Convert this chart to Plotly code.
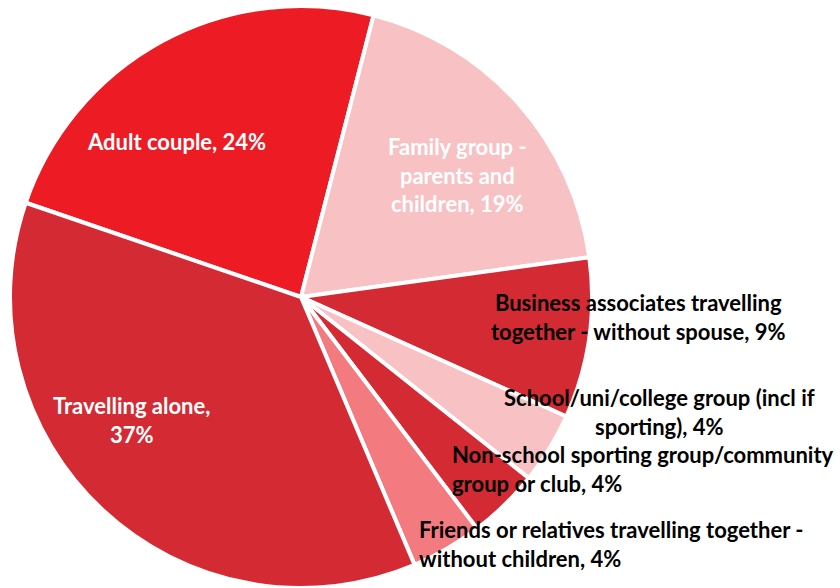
import plotly.graph_objects as go

# Travel party composition (share of respondents, %)
labels = [
    "Adult couple",
    "Family group - parents and children",
    "Business associates travelling together - without spouse",
    "School/uni/college group (incl if sporting)",
    "Non-school sporting group/community group or club",
    "Friends or relatives travelling together - without children",
    "Travelling alone",
]
values = [24, 19, 9, 4, 4, 4, 37]
label_lines = [
    ["Adult couple, {v}%"],
    ["Family group -", "parents and", "children, {v}%"],
    ["Business associates travelling", "together - without spouse, {v}%"],
    ["School/uni/college group (incl if", "sporting), {v}%"],
    ["Non-school sporting group/community", "group or club, {v}%"],
    ["Friends or relatives travelling together -", "without children, {v}%"],
    ["Travelling alone,", "{v}%"],
]
colors = ["#ED1C24", "#F8C1C4", "#D42A33", "#F8C1C4", "#D42A33", "#F37B80", "#D42A33"]

# label placement: (x px, y px from top, anchor, text colour)
label_pos = [
    (176, 141, "center", "white"),
    (458, 175, "center", "white"),
    (638, 317, "center", "black"),
    (659, 412, "center", "black"),
    (450, 469, "left", "black"),
    (417, 544, "left", "black"),
    (131, 420, "center", "white"),
]

W, H = 840, 588

fig = go.Figure(
    go.Pie(
        labels=labels,
        values=values,
        sort=False,
        direction="clockwise",
        rotation=-71.1,
        marker=dict(colors=colors, line=dict(color="white", width=4)),
        textinfo="none",
        hoverinfo="label+value",
        domain=dict(x=[10 / W, 592 / W], y=[0, 582 / H]),
        showlegend=False,
    )
)

for lines, v, (px, py, anchor, col) in zip(label_lines, values, label_pos):
    text = "<br>".join(s.format(v=v) for s in lines)
    fig.add_annotation(
        x=px / W,
        y=1 - py / H,
        xref="paper",
        yref="paper",
        text=text,
        showarrow=False,
        xanchor=anchor,
        yanchor="middle",
        align=anchor,
        font=dict(family="Lato", size=22, color=col, weight="bold"),
    )

fig.update_layout(
    width=W,
    height=H,
    margin=dict(l=0, r=0, t=0, b=0),
    paper_bgcolor="white",
    plot_bgcolor="white",
)

fig.write_html("out.html")
